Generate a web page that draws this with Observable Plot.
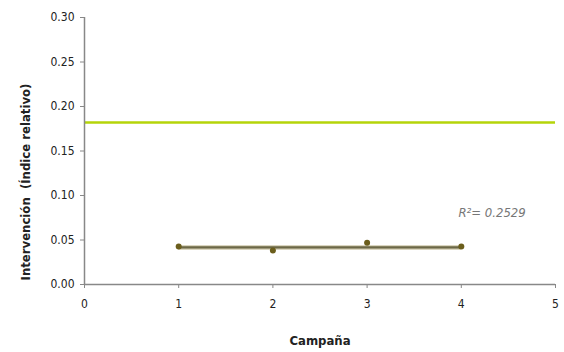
<!DOCTYPE html>
<html>
<head>
<meta charset="utf-8">
<script src="https://cdn.jsdelivr.net/npm/d3@7"></script>
<script src="https://cdn.jsdelivr.net/npm/@observablehq/plot@0.6"></script>
<style>
  html, body { margin: 0; padding: 0; background: #fff; }
</style>
</head>
<body>
<div id="chart"></div>
<script>
const campaigns = [1, 2, 3, 4];
const intervention = [0.0427, 0.0382, 0.0469, 0.0427];
const referenceLevel = 0.182;
const xTicks = [0, 1, 2, 3, 4, 5];
const yTicks = [0, 0.05, 0.10, 0.15, 0.20, 0.25, 0.30];
const r2Label = "R²= 0.2529";
const r2Pos = {x: 3.97, y: 0.081};

const data = campaigns.map((c, i) => ({x: c, y: intervention[i]}));
const trend = [{x1: d3.min(campaigns), x2: d3.max(campaigns), y: d3.mean(intervention) - 0.001}];
const FONT = "'Liberation Sans Narrow', 'DejaVu Sans Condensed', Roboto, sans-serif";

const chart = Plot.plot({
  width: 564,
  height: 352,
  marginLeft: 84,
  marginRight: 9,
  marginTop: 17,
  marginBottom: 68,
  style: {fontSize: "12px", color: "#222", fontFamily: FONT},
  x: {domain: [0, 5], ticks: xTicks, tickFormat: d3.format("d"), tickSize: 4, tickPadding: 11, label: "Campaña", labelAnchor: "center", labelOffset: 60, labelArrow: "none"},
  y: {domain: [0, 0.30], ticks: yTicks, tickFormat: d3.format(".2f"), tickSize: 4, tickPadding: 6, label: "Intervención  (Índice relativo)", labelAnchor: "center", labelOffset: 64, labelArrow: "none"},
  marks: [
    Plot.ruleY([referenceLevel], {stroke: "#b5d40a", strokeWidth: 2.5}),
    Plot.ruleY(trend, {x1: "x1", x2: "x2", y: "y", stroke: "#cfc9ad", strokeWidth: 4.5}),
    Plot.ruleY(trend, {x1: "x1", x2: "x2", y: "y", stroke: "#6c6847", strokeWidth: 2.2}),
    Plot.dot(data, {x: "x", y: "y", r: 3, fill: "#6b5e1c", stroke: "none"}),
    Plot.text([r2Label], {x: r2Pos.x, y: r2Pos.y, text: d => d, textAnchor: "start", fill: "#777", fontStyle: "italic", fontSize: 13}),
    Plot.ruleX([0], {stroke: "#888", strokeWidth: 1.5}),
    Plot.ruleY([0], {stroke: "#888", strokeWidth: 1.5})
  ]
});

const svg = d3.select(chart);
svg.selectAll("[aria-label='x-axis tick'] path, [aria-label='y-axis tick'] path").attr("stroke", "#888");
svg.selectAll("[aria-label='x-axis label'], [aria-label='y-axis label']").attr("font-weight", "bold").attr("font-size", "13px");
// shift y label down to sit like the reference (centered below plot middle)
svg.selectAll("[aria-label='y-axis label'] text").each(function() {
  const t = d3.select(this).attr("transform");
  const m = /translate\(([^,]+),([^)]+)\)/.exec(t);
  if (m) d3.select(this).attr("transform", t.replace(m[0], `translate(${m[1]},${+m[2] + 31})`));
});
document.getElementById("chart").appendChild(chart);
</script>
</body>
</html>
